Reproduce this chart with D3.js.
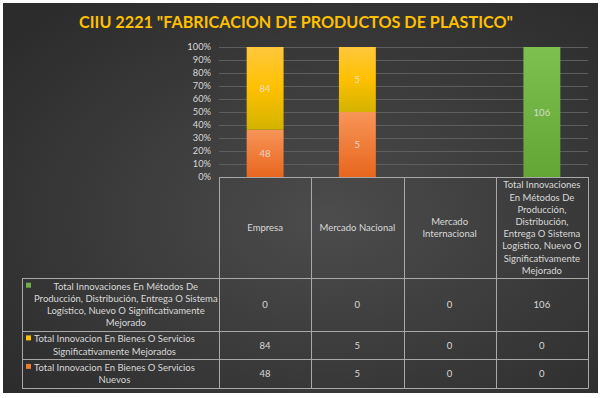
<!DOCTYPE html>
<html><head><meta charset="utf-8">
<script src="https://cdn.jsdelivr.net/npm/d3@7"></script>
<style>html,body{margin:0;padding:0;background:#fff;}svg{display:block;}</style>
</head><body>
<script>
const title = 'CIIU 2221 "FABRICACION DE PRODUCTOS DE PLASTICO"';
const categories = ["Empresa", "Mercado Nacional", "Mercado Internacional",
  "Total Innovaciones En Métodos De Producción, Distribución, Entrega O Sistema Logístico, Nuevo O Significativamente Mejorado"];
const categoryLines = [["Empresa"], ["Mercado Nacional"], ["Mercado", "Internacional"],
  ["Total Innovaciones", "En Métodos De", "Producción,", "Distribución,", "Entrega O Sistema", "Logístico, Nuevo O", "Significativamente", "Mejorado"]];
const seriesNames = [
  "Total Innovaciones En Métodos De Producción, Distribución, Entrega O Sistema Logístico, Nuevo O Significativamente Mejorado",
  "Total Innovacion En Bienes O Servicios Significativamente Mejorados",
  "Total Innovacion En Bienes O Servicios Nuevos"];
const seriesLines = [
  ["Total Innovaciones En Métodos De", "Producción, Distribución, Entrega O Sistema", "Logístico, Nuevo O Significativamente", "Mejorado"],
  ["Total Innovacion En Bienes O Servicios", "Significativamente Mejorados"],
  ["Total Innovacion En Bienes O Servicios", "Nuevos"]];
const metodos = [0, 0, 0, 106];
const mejorados = [84, 5, 0, 0];
const nuevos = [48, 5, 0, 0];
const tickValues = [0, 0.1, 0.2, 0.3, 0.4, 0.5, 0.6, 0.7, 0.8, 0.9, 1];

(function () {
const W = 602, H = 398;
const svg = d3.select("body").append("svg").attr("width", W).attr("height", H);
const defs = svg.append("defs");
const bg = defs.append("radialGradient").attr("id", "bg").attr("cx", "55%").attr("cy", "55%").attr("r", "70%");
bg.append("stop").attr("offset", "0%").attr("stop-color", "#4c4c4c");
bg.append("stop").attr("offset", "100%").attr("stop-color", "#2c2c2c");
function lg(id, stops) {
  const g = defs.append("linearGradient").attr("id", id).attr("x1", 0).attr("x2", 0).attr("y1", 0).attr("y2", 1);
  stops.forEach(s => g.append("stop").attr("offset", s[0]).attr("stop-color", s[1]));
}
lg("gOrange", [["0%", "#f79558"], ["100%", "#e8661e"]]);
lg("gYellow", [["0%", "#ffc83c"], ["50%", "#ffc000"], ["100%", "#d2b300"]]);
lg("gGreen", [["0%", "#7cc04e"], ["100%", "#64a636"]]);
const fills = ["url(#gGreen)", "url(#gYellow)", "url(#gOrange)"];
const markerColors = ["#70ad47", "#ffc000", "#ed7d31"];

svg.append("rect").attr("x", 3).attr("y", 3).attr("width", 595).attr("height", 390).attr("fill", "url(#bg)");

const FONT = "Lato, 'Open Sans', sans-serif";
const txt = "#d9d9d9", lineCol = "#a8a8a8";
const fs = 9.5;

svg.append("text").attr("x", 296).attr("y", 28).attr("text-anchor", "middle")
  .attr("font-family", FONT).attr("font-weight", "bold").attr("font-size", 16.2)
  .attr("fill", "#ffc000").text(title);

const pLeft = 219, pRight = 588, pTop = 47, pBottom = 177;
const x = d3.scaleBand().domain(categories).range([pLeft, pRight]).paddingInner(0.6).paddingOuter(0.3);
const y = d3.scaleLinear().domain([0, 1]).range([pBottom, pTop]);

svg.append("g").selectAll("line").data(tickValues).join("line")
  .attr("x1", pLeft).attr("x2", pRight).attr("y1", d => y(d) + 0.5).attr("y2", d => y(d) + 0.5)
  .attr("stroke", "#5e5e5e").attr("stroke-width", 1);

const yAxis = svg.append("g").attr("transform", `translate(${pLeft - 8},0)`)
  .call(d3.axisLeft(y).tickValues(tickValues).tickFormat(d3.format(".0%")).tickSize(0).tickPadding(0));
yAxis.select(".domain").remove();
yAxis.selectAll("text").attr("fill", txt).attr("font-family", FONT).attr("font-size", 9.3);

const rows = categories.map((c, i) => ({ cat: c, nuevos: nuevos[i], mejorados: mejorados[i], metodos: metodos[i] }));
const keys = ["nuevos", "mejorados", "metodos"];
const keyFill = { nuevos: fills[2], mejorados: fills[1], metodos: fills[0] };
const stacked = d3.stack().keys(keys).offset(d3.stackOffsetExpand)(rows);
stacked.forEach(s => {
  const g = svg.append("g");
  s.forEach(d => {
    const v = d.data[s.key];
    if (!v) return;
    g.append("rect").attr("x", x(d.data.cat)).attr("width", x.bandwidth())
      .attr("y", y(d[1])).attr("height", y(d[0]) - y(d[1])).attr("fill", keyFill[s.key]);
    g.append("text").attr("x", x(d.data.cat) + x.bandwidth() / 2).attr("y", (y(d[0]) + y(d[1])) / 2 + 3.5)
      .attr("text-anchor", "middle").attr("font-family", FONT).attr("font-size", fs)
      .attr("fill", "#e6e6e6").attr("fill-opacity", 0.85).text(v);
  });
});

const colEdges = categories.map(c => x(c) - x.step() * x.paddingInner() / 2).concat([pRight]);
colEdges[0] = pLeft;
const rowEdges = [177, 278, 331, 359, 388];
const legendLeft = 22;
const tg = svg.append("g").attr("stroke", lineCol).attr("stroke-width", 1).attr("fill", "none");
colEdges.forEach(cx => tg.append("line").attr("x1", Math.round(cx) + 0.5).attr("x2", Math.round(cx) + 0.5)
  .attr("y1", rowEdges[0]).attr("y2", rowEdges[4]));
tg.append("line").attr("x1", pLeft).attr("x2", pRight).attr("y1", rowEdges[0] + 0.5).attr("y2", rowEdges[0] + 0.5);
rowEdges.slice(1).forEach(ry => tg.append("line").attr("x1", legendLeft).attr("x2", pRight + 0.5)
  .attr("y1", ry + 0.5).attr("y2", ry + 0.5));
tg.append("line").attr("x1", legendLeft + 0.5).attr("x2", legendLeft + 0.5).attr("y1", rowEdges[1]).attr("y2", rowEdges[4] + 1);

const lh = 12.2;
categoryLines.forEach((lines, i) => {
  const cx = x(categories[i]) + x.bandwidth() / 2;
  const cy = (rowEdges[0] + rowEdges[1]) / 2;
  const y0 = cy - (lines.length - 1) * lh / 2 + 3.5;
  lines.forEach((l, k) => svg.append("text").attr("x", cx).attr("y", y0 + k * lh)
    .attr("text-anchor", "middle").attr("font-family", FONT).attr("font-size", fs).attr("fill", txt).text(l));
});
const seriesValues = [metodos, mejorados, nuevos];
seriesValues.forEach((vals, r) => {
  const cy = (rowEdges[r + 1] + rowEdges[r + 2]) / 2 + 3.5;
  vals.forEach((v, i) => svg.append("text").attr("x", x(categories[i]) + x.bandwidth() / 2).attr("y", cy)
    .attr("text-anchor", "middle").attr("font-family", FONT).attr("font-size", fs).attr("fill", txt).text(v));
  const lines = seriesLines[r];
  const y0 = cy - (lines.length - 1) * lh / 2;
  const tmp = lines.map((l, k) => svg.append("text").attr("y", y0 + k * lh)
    .attr("text-anchor", "middle").attr("font-family", FONT).attr("font-size", fs).attr("fill", txt).text(l));
  const maxW = d3.max(tmp, t => t.node().getComputedTextLength());
  const tx = 34 + maxW / 2;
  tmp.forEach(t => t.attr("x", tx));
  svg.append("rect").attr("x", 26).attr("y", y0 - 7).attr("width", 5).attr("height", 5)
    .attr("fill", markerColors[r]);
});
})();
</script>
</body></html>
